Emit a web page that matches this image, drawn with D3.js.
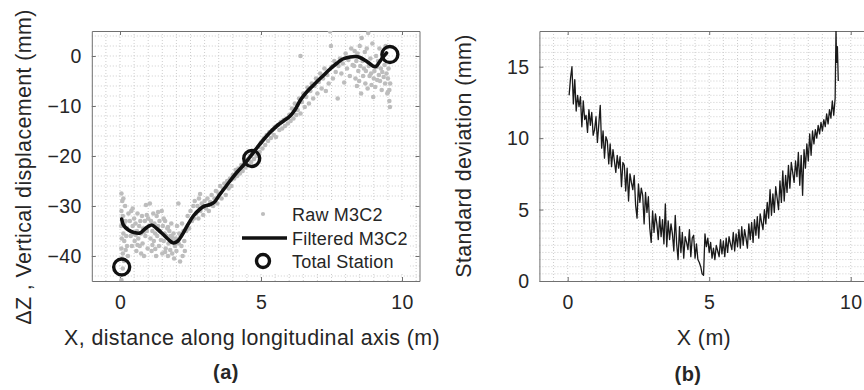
<!DOCTYPE html>
<html>
<head>
<meta charset="utf-8">
<script src="https://d3js.org/d3.v7.min.js"></script>
<style>
  body { margin: 0; background: #fff; }
  text { font-family: "Liberation Sans", Arial, sans-serif; fill: #262626; }
  .tick-label { font-size: 19.5px; letter-spacing: 0.4px; }
  .axis-label { font-size: 21.4px; letter-spacing: 0.4px; }
  .legend-label { font-size: 18px; letter-spacing: 0.2px; }
  .panel-label { font-size: 20px; font-weight: bold; letter-spacing: 0.5px; }
  .grid line { stroke: #cdcdcd; stroke-width: 1; stroke-dasharray: 1 2; }
</style>
</head>
<body>
<script>
// ---- panel (a): raw M3C2 points (x in m, dZ in mm)
const rawPts = [
  [0.05,-27.5],[0.12,-28.5],[0.08,-29],[0.05,-31],[0.1,-32],[0.04,-34],[0.12,-35.5],[0.06,-36.5],[0.15,-37],
  [0.05,-38.5],[0.1,-39.5],[0.08,-40.5],[0.14,-41],[0.05,-44.8],[0.2,-33],[0.22,-36],[0.25,-38],[0.18,-30],
  [0.25,-34.5],[0.28,-40],[0.3,-31.5],[0.15,-33.5],[0.2,-38.8],[0.1,-42.5],
  [0.35,-33],[0.38,-36],[0.4,-31],[0.42,-38],[0.45,-34],[0.48,-35.5],[0.5,-32.5],[0.52,-37],[0.55,-33.5],
  [0.58,-39],[0.6,-35],[0.62,-31.5],[0.65,-36.5],[0.68,-34],[0.7,-38],[0.72,-33],[0.75,-35.5],[0.78,-32],
  [0.8,-37.5],[0.82,-34.5],[0.85,-40],[0.88,-33],[0.9,-36],[0.92,-29.8],[0.95,-35],[0.98,-38.5],[1.0,-32.5],
  [1.02,-34],[1.06,-29.5],[1.08,-36.5],[1.1,-33],[1.12,-39],[1.15,-35],[1.18,-31.5],[1.2,-37],[1.22,-33.5],
  [1.25,-35.5],[1.28,-40],[1.3,-32],[1.32,-36],[1.35,-34],[1.38,-38],[1.4,-33],[1.42,-35],[1.45,-36.8],
  [1.48,-31],[1.5,-39.5],[1.52,-34],[1.55,-37],[1.58,-35.5],[1.6,-33],[1.62,-38.5],[1.65,-36],[1.68,-34.5],
  [1.7,-40],[1.72,-37.5],[1.75,-35],[1.78,-38.8],[1.8,-36],[1.82,-33.5],[1.85,-39.5],[1.88,-37],[1.9,-35.5],
  [1.92,-40.5],[1.95,-38],[1.98,-36.5],[2.0,-39],[2.02,-34],[2.07,-29.5],[2.08,-37.5],[2.1,-35.5],[2.13,-41.1],
  [2.15,-36],[2.18,-38],[2.2,-33.5],[2.22,-40],[2.25,-35],[2.28,-37],[2.3,-39],
  [0.45,-30.5],[0.62,-37.8],[0.75,-39.5],[0.95,-31.8],[1.15,-37.8],[1.35,-31.2],[1.55,-32.5],[1.7,-34.2],
  [1.85,-36.2],[2.0,-37.2],[0.55,-35.8],[0.85,-35.2],[1.25,-38.6],[1.6,-39.2],
  [2.35,-35],[2.4,-32],[2.45,-34.5],[2.5,-31],[2.55,-33],[2.6,-30],[2.62,-32.5],[2.65,-29],[2.7,-31.5],
  [2.75,-30],[2.78,-32.5],[2.8,-28.5],[2.84,-27.6],[2.85,-31],[2.9,-29.5],[2.95,-31.8],[3.0,-29],[3.05,-30.5],
  [3.1,-28.5],[3.15,-31],[3.2,-29.2],[3.25,-27.8],[3.3,-30],[3.35,-28.5],[3.4,-27],[3.45,-29.5],[3.5,-27.5],
  [3.55,-26],[3.6,-28.5],[3.65,-26.5],[3.7,-25.5],[3.75,-27.8],[3.8,-25],[3.85,-26.5],[3.9,-24.5],[3.95,-26],
  [4.0,-23.8],
  [4.05,-24.5],[4.1,-22.8],[4.15,-24],[4.2,-22.5],[4.25,-23.5],[4.3,-21.8],[4.35,-23],[4.4,-21.5],[4.45,-22.3],
  [4.5,-20.8],[4.55,-21.8],[4.6,-20],[4.65,-21.2],[4.7,-19.5],[4.75,-20.6],[4.8,-18.8],[4.85,-20],[4.9,-18.2],
  [4.95,-19.2],[5.0,-17.3],[5.05,-18.5],[5.1,-16.5],[5.15,-17.8],[5.2,-15.8],[5.25,-17],[5.3,-15.2],[5.35,-16.4],
  [5.4,-14.8],[5.45,-15.8],[5.5,-14.2],[5.53,-16.2],[5.6,-13.8],[5.65,-14.8],[5.7,-13.2],[5.75,-14.5],[5.8,-12.8],
  [5.85,-14],[5.9,-12.5],[5.95,-13.5],[6.0,-11.8],
  [6.05,-13],[6.1,-10.5],[6.15,-12.5],[6.2,-9.5],[6.25,-11.8],[6.3,-10.8],[6.35,-8.5],[6.4,0],[6.4,-11.5],
  [6.45,-9.2],[6.5,-7.5],[6.55,-10.2],[6.6,-8.2],[6.65,-6.3],[6.7,-9.5],[6.75,-7],[6.8,-5.5],[6.85,-8.5],
  [6.9,-6],[6.95,-4.5],[7.0,-7.5],[7.05,-5.2],[7.1,-3.5],[7.15,-6.5],[7.2,-4.5],[7.25,-2.5],[7.3,-7],
  [7.35,-3.8],[7.4,-5.5],[7.45,4.9],[7.48,2],[7.5,-2.2],[7.55,-4.5],[7.6,-1],[7.65,-3.2],[7.72,-8.5],
  [7.75,-2],[7.8,-0.5],[7.85,-3.5],[7.9,-1.5],[7.95,-5.3],[8.0,0.5],[8.05,-2.5],[8.1,-0.8],[8.15,-4],
  [8.2,1.5],[8.25,-1.8],
  [8.3,-2],[8.32,1],[8.35,-4.5],[8.38,-1],[8.4,-6],[8.42,0.5],[8.45,-3],[8.48,-5],[8.5,2],[8.52,-2],
  [8.55,-7.5],[8.57,3.6],[8.6,-1],[8.62,-4],[8.65,-2.5],[8.68,0.8],[8.7,-5.5],[8.72,-3],[8.75,1.5],
  [8.78,-6.5],[8.8,4.6],[8.82,-2],[8.85,-4],[8.88,-0.5],[8.9,-3.5],[8.92,-5.8],[8.95,2.5],[8.98,-8.2],
  [9.0,-4.5],[9.02,-3],[9.05,-6.2],[9.08,0],[9.1,-2.2],[9.12,-4.8],[9.15,-1],[9.18,-3.8],[9.2,1.5],
  [9.22,-5],[9.25,-2.5],[9.28,-6.8],[9.3,-3.2],[9.32,-0.5],[9.35,-4.2],[9.38,-1.8],[9.4,-5.5],[9.42,2],
  [9.45,-3.5],[9.48,-7.5],[9.5,-4.5],[9.52,-2.5],[9.5,-7.2],[9.58,-5.5],[9.57,-10.2],[9.55,-6.8],[9.55,-9]
];

// filtered M3C2 profile
const filtPts = [
  [0.06,-32.6],[0.12,-33.8],[0.3,-34.8],[0.5,-35.3],[0.71,-35.4],[0.9,-34.5],[1.12,-33.8],[1.3,-34.5],
  [1.48,-35.4],[1.7,-36.6],[1.89,-37.4],[2.05,-37.0],[2.2,-35.8],[2.4,-33.8],[2.6,-32.0],[2.84,-30.6],
  [3.0,-30.0],[3.2,-29.7],[3.35,-29.2],[3.5,-28.0],[3.7,-26.5],[3.9,-25.0],[4.14,-23.3],[4.4,-21.7],
  [4.61,-20.2],[4.85,-18.4],[5.08,-16.8],[5.3,-15.4],[5.56,-14.0],[5.8,-13.0],[6.03,-12.0],[6.2,-10.8],
  [6.4,-8.8],[6.62,-7.2],[6.9,-5.6],[7.21,-3.9],[7.45,-2.6],[7.68,-1.5],[7.9,-0.6],[8.16,-0.2],[8.35,-0.1],
  [8.51,-0.3],[8.7,-0.9],[8.85,-1.5],[9.0,-2.1],[9.1,-2.0],[9.2,-1.2],[9.3,-0.4],[9.45,0.6]
];

// total station checks
const stationX = [0.06, 4.67, 9.57];
const stationY = [-42.2, -20.5, 0.3];

const legendNames = ["Raw M3C2", "Filtered M3C2", "Total Station"];

// ---- panel (b): standard deviation along X, sampled every 0.05 m up to 9.45, then the end spike
const stdX = d3.range(0.05, 9.46, 0.05).concat([9.48, 9.5, 9.53, 9.56]);
const stdY = [
  13.0, 14.2, 15.0, 12.4, 14.1, 11.9, 13.0, 12.2, 12.9, 10.8,
  12.6, 11.3, 11.6, 10.4, 12.0, 10.9, 11.8, 10.2, 10.6, 11.5,
  9.7, 11.0, 12.3, 9.3, 10.5, 8.6, 10.1, 9.8, 8.2, 9.6,
  8.0, 9.2, 8.4, 7.6, 8.8, 7.9, 8.7, 6.6, 8.3, 8.1,
  6.3, 7.9, 5.6, 7.5, 6.9, 6.4, 7.4, 5.3, 4.4, 6.8,
  5.5, 6.5, 6.0, 4.0, 6.2, 4.8, 5.9, 3.7, 2.7, 4.9,
  3.4, 4.7, 4.0, 2.9, 4.5, 3.1, 4.3, 2.6, 5.4, 2.4,
  4.2, 2.9, 4.0, 3.3, 2.1, 4.6, 2.6, 1.5, 3.8, 2.0,
  3.4, 1.6, 3.1, 2.7, 2.2, 3.6, 1.7, 3.0, 3.2, 1.6,
  2.6, 1.5, 1.3, 1.0, 0.5, 0.4, 3.3, 2.4, 3.0, 2.0,
  2.7, 1.6, 2.3, 1.5, 2.5, 2.1, 1.7, 2.9, 1.9, 2.8,
  1.7, 3.0, 2.0, 3.1, 2.6, 2.2, 3.4, 2.1, 3.3, 2.4,
  3.6, 2.3, 3.8, 2.5, 3.6, 3.0, 2.3, 4.0, 2.9, 4.1,
  2.7, 4.3, 3.2, 4.5, 3.0, 4.7, 4.1, 3.6, 5.0, 4.0,
  5.5, 4.4, 6.4, 4.6, 6.1, 4.8, 6.6, 5.8, 5.0, 7.0,
  5.5, 7.7, 5.6, 7.4, 6.2, 8.1, 6.5, 8.3, 7.6, 6.9,
  8.4, 7.3, 9.0, 6.7, 8.8, 6.0, 9.2, 7.9, 9.6, 8.4,
  10.3, 8.8, 10.5, 9.6, 10.6, 10.0, 10.9, 10.3, 11.1, 10.5,
  11.3, 10.8, 11.7, 11.0, 12.0, 11.4, 12.6, 11.6, 12.8,
  17.6, 15.3, 16.4, 14.0
];

const xTicks = [0, 5, 10];
const yTicksA = [0, -10, -20, -30, -40];
const yTicksB = [0, 5, 10, 15];

const width = 864, height = 390;
const svg = d3.select("body").append("svg")
  .attr("width", width)
  .attr("height", height);

// scales (pixel ranges match the figure layout)
const xa = d3.scaleLinear().domain([-1, 10.62]).range([91.8, 419.5]);
const ya = d3.scaleLinear().domain([-45, 5]).range([281, 31]);
const xb = d3.scaleLinear().domain([-1, 10.6]).range([539.4, 867.7]);
const yb = d3.scaleLinear().domain([0, 17.5]).range([281, 31]);

function drawFrame(x, y, gridX, gridY, xt, yt, id) {
  const [x0, x1] = x.range();
  const [y0, y1] = y.range();
  const g = svg.append("g");

  // dotted grid
  const grid = g.append("g").attr("class", "grid");
  grid.selectAll(".gx").data(gridX).join("line")
    .attr("x1", d => x(d)).attr("x2", d => x(d))
    .attr("y1", y1).attr("y2", y0);
  grid.selectAll(".gy").data(gridY).join("line")
    .attr("class", "gy")
    .attr("x1", x0).attr("x2", x1)
    .attr("y1", d => y(d)).attr("y2", d => y(d));

  // clip for data
  svg.append("clipPath").attr("id", id)
    .append("rect").attr("x", x0).attr("y", y1).attr("width", x1 - x0).attr("height", y0 - y1);

  // box + inward ticks via d3 axes
  const tick = 4;
  const ax = (axis, tr) => g.append("g").attr("transform", tr).call(axis)
    .call(s => s.select(".domain").attr("stroke", "#707070"))
    .call(s => s.selectAll(".tick line").attr("stroke", "#707070"));

  const bottom = ax(d3.axisBottom(x).tickValues(xt).tickSizeInner(-tick).tickSizeOuter(0).tickPadding(14), `translate(0,${y0})`);
  bottom.selectAll(".tick text").attr("class", "tick-label").attr("font-size", null).attr("font-family", null)
    .attr("fill", "#262626");
  ax(d3.axisTop(x).tickValues(xt).tickSizeInner(-tick).tickSizeOuter(0).tickFormat(""), `translate(0,${y1})`);
  const left = ax(d3.axisLeft(y).tickValues(yt).tickSizeInner(-tick).tickSizeOuter(0).tickPadding(10), `translate(${x0},0)`);
  left.selectAll(".tick text").attr("class", "tick-label").attr("font-size", null).attr("font-family", null)
    .attr("fill", "#262626").attr("dy", "0.35em");
  ax(d3.axisRight(y).tickValues(yt).tickSizeInner(-tick).tickSizeOuter(0).tickFormat(""), `translate(${x1},0)`);
  return g;
}

// ---------- panel (a)
drawFrame(xa, ya, d3.range(-0.5, 10.6, 0.5), d3.range(-44, 5, 2), xTicks, yTicksA, "clipA");

const dataA = svg.append("g").attr("clip-path", "url(#clipA)");
dataA.selectAll("circle.raw").data(rawPts).join("circle")
  .attr("class", "raw")
  .attr("cx", d => xa(d[0])).attr("cy", d => ya(d[1]))
  .attr("r", 2.3).attr("fill", "#bdbdbd");

dataA.append("path")
  .datum(filtPts)
  .attr("fill", "none").attr("stroke", "#111").attr("stroke-width", 3.6)
  .attr("stroke-linejoin", "round").attr("stroke-linecap", "round")
  .attr("d", d3.line().x(d => xa(d[0])).y(d => ya(d[1])).curve(d3.curveCatmullRom));

dataA.selectAll("circle.ts").data(stationX).join("circle")
  .attr("class", "ts")
  .attr("cx", d => xa(d)).attr("cy", (d, i) => ya(stationY[i]))
  .attr("r", 8).attr("fill", "none").attr("stroke", "#111").attr("stroke-width", 3.4);

// legend (white background, no border)
const lg = svg.append("g");
lg.append("rect").attr("x", 240).attr("y", 201).attr("width", 170).attr("height", 71).attr("fill", "#fff");
const rowY = [214, 238, 261];
lg.append("circle").attr("cx", 263).attr("cy", rowY[0]).attr("r", 2.1).attr("fill", "#bdbdbd");
lg.append("line").attr("x1", 242).attr("x2", 287).attr("y1", rowY[1]).attr("y2", rowY[1])
  .attr("stroke", "#111").attr("stroke-width", 3.6);
lg.append("circle").attr("cx", 263).attr("cy", rowY[2]).attr("r", 6.5)
  .attr("fill", "none").attr("stroke", "#111").attr("stroke-width", 3.4);
lg.selectAll("text").data(legendNames).join("text")
  .attr("class", "legend-label")
  .attr("x", 292).attr("y", (d, i) => rowY[i] + 6.5)
  .text(d => d);

svg.append("text").attr("class", "axis-label")
  .attr("text-anchor", "middle")
  .attr("transform", "translate(31,167) rotate(-90)")
  .text("\u0394Z , Vertical displacement (mm)");
svg.append("text").attr("class", "axis-label")
  .attr("text-anchor", "middle").attr("x", 252).attr("y", 345)
  .text("X, distance along longitudinal axis (m)");
svg.append("text").attr("class", "panel-label")
  .attr("text-anchor", "middle").attr("x", 226).attr("y", 379)
  .text("(a)");

// ---------- panel (b)
drawFrame(xb, yb, d3.range(-0.5, 10.6, 0.5), d3.range(0.5, 17.5, 0.5), xTicks, yTicksB, "clipB");

svg.append("g").attr("clip-path", "url(#clipB)")
  .append("path")
  .datum(stdX.map((d, i) => [d, stdY[i]]))
  .attr("fill", "none").attr("stroke", "#1a1a1a").attr("stroke-width", 1.3)
  .attr("stroke-linejoin", "round")
  .attr("d", d3.line().x(d => xb(d[0])).y(d => yb(d[1])));

svg.append("text").attr("class", "axis-label")
  .attr("text-anchor", "middle")
  .attr("transform", "translate(471,156) rotate(-90)")
  .text("Standard deviation (mm)");
svg.append("text").attr("class", "axis-label")
  .attr("text-anchor", "middle").attr("x", 704).attr("y", 345)
  .text("X (m)");
svg.append("text").attr("class", "panel-label")
  .attr("text-anchor", "middle").attr("x", 688).attr("y", 381)
  .text("(b)");
</script>
</body>
</html>
